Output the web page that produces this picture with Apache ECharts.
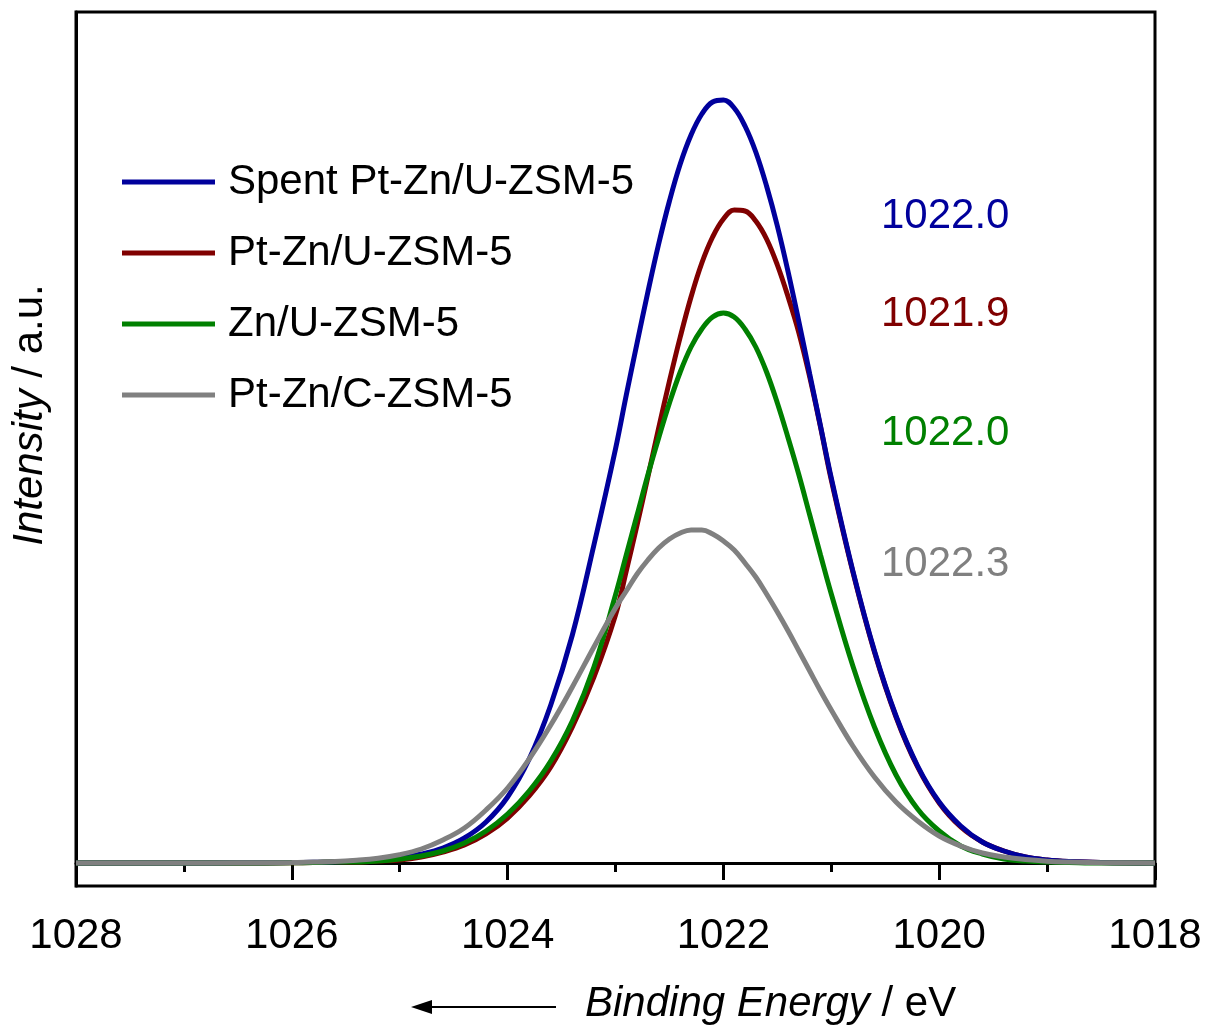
<!DOCTYPE html>
<html>
<head>
<meta charset="utf-8">
<script src="https://cdn.jsdelivr.net/npm/echarts@6/dist/echarts.min.js"></script>
<style>
html,body{margin:0;padding:0;background:#fff;}
#chart{width:1211px;height:1025px;}
</style>
</head>
<body>
<div id="chart"></div>
<script>
// Binding energy grid (eV)
const energies = [1028,1027.5,1027,1026.5,1026,1025.8,1025.6,1025.4,1025.2,1025.0,1024.8,1024.6,1024.4,1024.2,1024.0,1023.8,1023.6,1023.4,1023.2,1023.0,
  1022.9,1022.8,1022.7,1022.6,1022.5,1022.4,1022.3,1022.2,1022.1,1022.0,1021.9,1021.8,1021.7,1021.6,1021.5,1021.4,1021.3,1021.2,1021.1,
  1021.0,1020.8,1020.6,1020.4,1020.2,1020.0,1019.8,1019.6,1019.4,1019.2,1019.0,1018.8,1018.5,1018.0];

const spentPtZnU = [0,0,0,0.2,0.4,0.7,1,2,3,5,9,15,25,41,66,104,158,228,318,414,
  468,520,571,619,662,699,728,749,761,763,755,737,711,677,637,591,541,489,437,
  385,292,212,147,97,61,37,21,12,6,3,1.5,0.5,0];

const ptZnU = [0,0,0,0,0.3,0.5,1,1,2,3,6,11,18,29,45,67,96,136,186,248,
  292,338,386,435,482,526,566,600,626,644,653,652,642,624,598,566,530,486,436,
  383,291,211,146,96,60,36,21,12,6,3,1.5,0.5,0];

const znU = [0,0,0,0,0.3,0.5,1,1,2,4,7,12,20,32,49,72,102,142,196,268,
  308,348,388,425,460,491,516,534,546,550,546,534,516,491,460,425,388,348,308,
  269,197,136,88,54,32,17,9,4,2,1,0.5,0,0];

const ptZnC = [0,0,0,0.2,0.5,1,1.4,2.7,4.8,8.4,14,23,35,53,75,104,138,176,216,255,
  272,289,303,315,324,330,333,333,329,322,313,300,286,269,251,232,212,192,172,
  153,117,86,61,42,27,17,10,6,3.4,1.8,1,0.3,0];

const seriesNames = ['Spent Pt-Zn/U-ZSM-5','Pt-Zn/U-ZSM-5','Zn/U-ZSM-5','Pt-Zn/C-ZSM-5'];
const peakLabels = ['1022.0','1021.9','1022.0','1022.3'];
const xTicks = [1028,1026,1024,1022,1020,1018];

const colors = {blue:'#00009C', red:'#800000', green:'#008000', gray:'#808080'};
const FONT = 'Liberation Sans, Arial, sans-serif';
const FS = 42;

const chart = echarts.init(document.getElementById('chart'), null, {renderer:'canvas'});

function mk(name, vals, color, z){
  return {
    name: name, type:'line', data: energies.map((e,i)=>[e, vals[i]]),
    showSymbol:false, symbol:'none', smooth:0.4, z:z,
    lineStyle:{color:color, width:5}, itemStyle:{color:color},
    emphasis:{disabled:true}
  };
}

const option = {
  backgroundColor:'#fff',
  animation:false,
  grid:{left:76, right:56, top:12, bottom:139, show:true, borderColor:'#000', borderWidth:3, backgroundColor:'transparent'},
  xAxis:{
    type:'value', min:1018, max:1028, interval:2, inverse:true,
    axisLine:{show:true, lineStyle:{color:'#000', width:3}},
    axisTick:{show:true, length:17, lineStyle:{color:'#000', width:3}},
    minorTick:{show:true, splitNumber:2, length:9, lineStyle:{color:'#000', width:3}},
    splitLine:{show:false}, minorSplitLine:{show:false},
    axisLabel:{color:'#000', fontSize:FS, fontFamily:FONT, margin:29,
      formatter:(v)=> xTicks.includes(v) ? String(v) : ''}
  },
  yAxis:{
    type:'value', min:-23, max:851,
    axisLine:{show:true, lineStyle:{color:'#000', width:3}},
    axisTick:{show:false}, axisLabel:{show:false}, splitLine:{show:false}
  },
  legend:{
    data: seriesNames, orient:'vertical', left:122, top:161, padding:0,
    icon:'rect', itemWidth:93, itemHeight:5, itemGap:29,
    textStyle:{color:'#000', fontSize:FS, fontFamily:FONT, lineHeight:41, padding:[0,0,0,8]},
    selectedMode:false
  },
  series:[
    mk(seriesNames[1], ptZnU, colors.red, 2),
    mk(seriesNames[0], spentPtZnU, colors.blue, 3),
    mk(seriesNames[2], znU, colors.green, 4),
    mk(seriesNames[3], ptZnC, colors.gray, 5)
  ],
  graphic:[
    {type:'text', left:881, top:216-21, style:{text:peakLabels[0], fill:colors.blue, font:FS+'px '+FONT}},
    {type:'text', left:881, top:314-21, style:{text:peakLabels[1], fill:colors.red, font:FS+'px '+FONT}},
    {type:'text', left:881, top:433-21, style:{text:peakLabels[2], fill:colors.green, font:FS+'px '+FONT}},
    {type:'text', left:881, top:564-21, style:{text:peakLabels[3], fill:colors.gray, font:FS+'px '+FONT}},
    {type:'text', left:585, top:1004-21, style:{
      text:'{i|Binding Energy} / eV', fill:'#000', font:FS+'px '+FONT,
      rich:{i:{fontStyle:'italic', fontSize:FS, fontFamily:FONT, fill:'#000'}}
    }},
    {type:'line', shape:{x1:428, y1:1007, x2:556, y2:1007}, style:{stroke:'#000', lineWidth:2}},
    {type:'polygon', shape:{points:[[411,1007],[432,1000],[432,1014]]}, style:{fill:'#000'}},
    {type:'text', x:30, y:415, rotation:Math.PI/2, style:{
      text:'{i|Intensity} / a.u.', fill:'#000', font:FS+'px '+FONT, align:'center', verticalAlign:'middle',
      rich:{i:{fontStyle:'italic', fontSize:FS, fontFamily:FONT, fill:'#000'}}
    }}
  ]
};
chart.setOption(option);
</script>
</body>
</html>
